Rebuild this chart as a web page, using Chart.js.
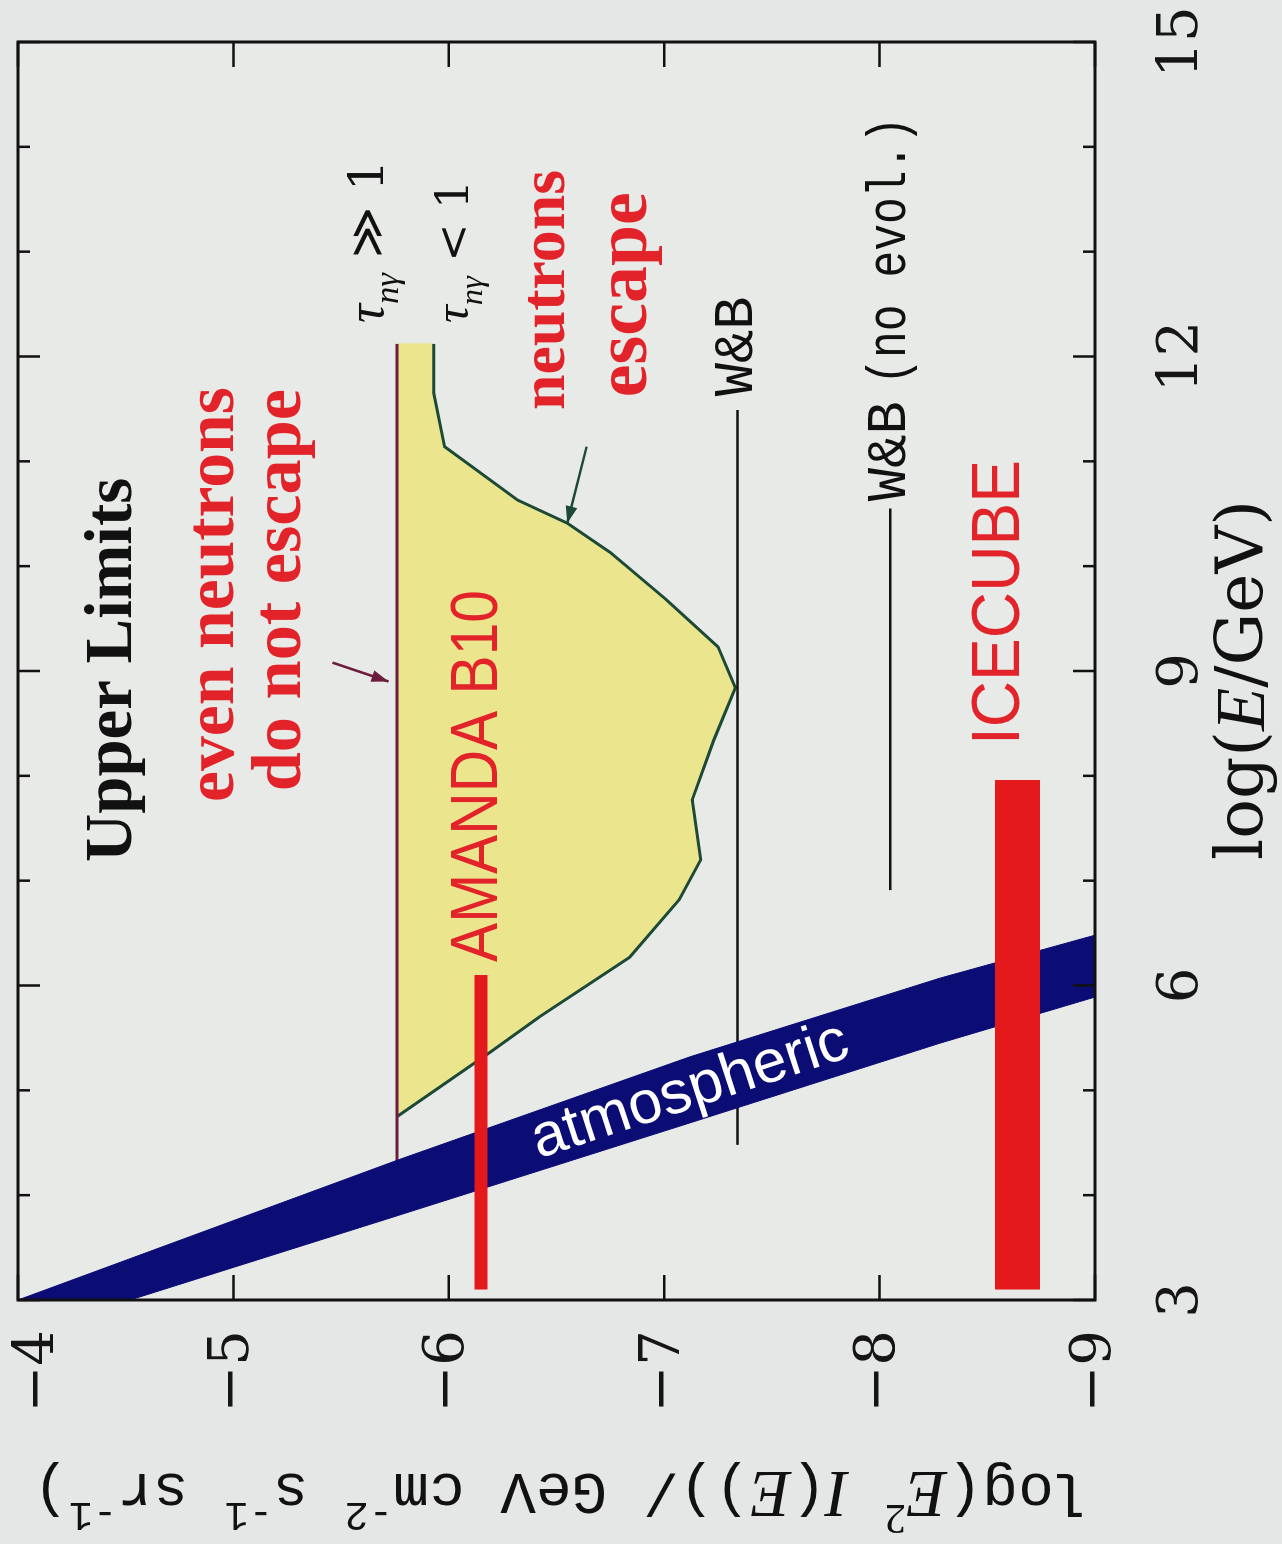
<!DOCTYPE html>
<html>
<head>
<meta charset="utf-8">
<title>Upper Limits</title>
<script src="https://cdn.jsdelivr.net/npm/chart.js@4/dist/chart.umd.min.js"></script>
<style>
  html, body { margin: 0; padding: 0; width: 1282px; height: 1544px; overflow: hidden; background: #e4e7e5; }
  /* the figure is printed turned a quarter turn */
  #turn { position: absolute; left: 0; top: 0; width: 1544px; height: 1282px;
          transform-origin: 0 0; transform: translate(0, 1544px) rotate(-90deg); }
</style>
</head>
<body>
<div id="turn"><canvas id="limitsChart" width="1544" height="1282"></canvas></div>
<script>
// axes
var xRange = [3, 15];
var yRange = [-9, -4];
var xTicks = [3, 6, 9, 12, 15];
var yTicks = [-4, -5, -6, -7, -8, -9];

// atmospheric band, two edges
var atmUpperX = [3.0, 4.34, 5.32, 6.07, 6.48];
var atmUpperY = [-4.0, -5.77, -7.12, -8.28, -9.0];
var atmLowerX = [3.0, 3.81, 4.69, 5.45, 5.89];
var atmLowerY = [-4.52, -5.77, -7.12, -8.28, -9.0];

// neutrons escape bound (tau < 1)
var escapeX = [4.75, 5.36, 5.70, 6.27, 6.82, 7.20, 7.77, 8.34, 8.84, 9.23, 9.68, 10.13, 10.41, 10.63, 11.14, 11.65, 12.12];
var escapeY = [-5.76, -6.19, -6.42, -6.84, -7.07, -7.17, -7.13, -7.23, -7.33, -7.25, -7.01, -6.75, -6.55, -6.32, -5.98, -5.93, -5.93];

// even neutrons do not escape (tau >> 1)
var opaqueX = [3.81, 12.12];
var opaqueY = [-5.76, -5.76];

// W&B bounds and detector sensitivities
var wbX = [4.48, 11.49];
var wbY = [-7.34, -7.34];
var wbFlatX = [6.91, 10.55];
var wbFlatY = [-8.05, -8.05];
var amandaX = [3.1, 6.1];
var amandaY = [-6.15, -6.15];
var icecubeX = [3.1, 7.96];
var icecubeY = [-8.64, -8.64];

// pointer arrows: tail, head
var arrowOpaqueX = [9.08, 8.90];
var arrowOpaqueY = [-5.46, -5.72];
var arrowEscapeX = [11.14, 10.41];
var arrowEscapeY = [-6.64, -6.55];

var SERIF = '"Liberation Serif", "Times New Roman", serif';
var CMR = '"DejaVu Serif", serif';
var SANS = '"Liberation Sans", Arial, sans-serif';
var MONO = '"Liberation Mono", "Courier New", monospace';

var NAVY = '#0b0c74', YELLOW = '#ebe58e', GREEN = '#1d4a36', MAROON = '#6e1c3e', RED = '#e3191c', REDTXT = '#e2232a';

function pts(xs, ys) {
	return xs.map(function(x, i) { return {x: x, y: ys[i]}; });
}

var bandPts = pts(atmUpperX, atmUpperY).concat(pts(atmLowerX, atmLowerY).reverse());
var escapeArea = pts(escapeX, escapeY).concat([{x: opaqueX[1], y: opaqueY[1]}]);

function lineSet(label, data, color, width, order) {
	return {label: label, data: data, showLine: true, borderColor: color, borderWidth: width,
		pointRadius: 0, fill: false, tension: 0, borderCapStyle: 'butt', order: order};
}

// text on the plot, placed in data units
var notes = [
	{x: 9.01, y: -4.446, align: 'center', width: 384, color: '#111',
		parts: [{t: 'Upper Limits', weight: 'bold', family: SERIF, size: 64}]},
	{x: 9.73, y: -4.915, align: 'center', width: 415, color: REDTXT,
		parts: [{t: 'even neutrons', weight: 'bold', family: SERIF, size: 64}]},
	{x: 9.77, y: -5.225, align: 'center', width: 402, color: REDTXT,
		parts: [{t: 'do not escape', weight: 'bold', family: SERIF, size: 64}]},
	{x: 12.635, y: -6.46, align: 'center', width: 240, color: REDTXT,
		parts: [{t: 'neutrons', weight: 'bold', family: SERIF, size: 64}]},
	{x: 12.59, y: -6.827, align: 'center', width: 205, color: REDTXT,
		parts: [{t: 'escape', weight: 'bold', family: SERIF, size: 64}]},
	{x: 6.224, y: -6.138, align: 'left', width: 372, squeeze: true, color: REDTXT,
		parts: [{t: 'AMANDA B10', family: SANS, size: 66}]},
	{x: 8.294, y: -8.559, align: 'left', width: 285, squeeze: true, color: REDTXT,
		parts: [{t: 'ICECUBE', family: SANS, size: 68}]},
	{x: 11.62, y: -7.34, align: 'left', width: 100, color: '#111',
		parts: [{t: 'W&B', family: MONO, size: 50}]},
	{x: 10.62, y: -8.05, align: 'left', width: 100, color: '#111',
		parts: [{t: 'W&B', family: MONO, size: 50}]},
	{x: 11.73, y: -8.05, align: 'left', width: 268, squeeze: true, color: '#111',
		parts: [{t: '(no evol.)', family: MONO, size: 55}]},
	{x: 12.32, y: -5.695, align: 'left', baseline: 'alphabetic', width: 163, color: '#111',
		parts: [{t: '\u03c4', style: 'italic', family: SERIF, size: 52},
			{t: 'n\u03b3', style: 'italic', family: SERIF, size: 34, dy: 15},
			{t: ' \u226b 1', family: CMR, size: 48}]},
	{x: 12.32, y: -6.089, align: 'left', baseline: 'alphabetic', width: 143, color: '#111',
		parts: [{t: '\u03c4', style: 'italic', family: SERIF, size: 52},
			{t: 'n\u03b3', style: 'italic', family: SERIF, size: 34, dy: 15},
			{t: ' < 1', family: CMR, size: 48}]},
	{x: 4.99, y: -7.12, align: 'center', width: 330, color: '#ffffff', alongBand: true,
		parts: [{t: 'atmospheric', family: SANS, size: 58}]}
];

var xTitle = [{t: 'log(', family: CMR, size: 56}, {t: 'E', style: 'italic', family: SERIF, size: 60},
	{t: '/GeV)', family: CMR, size: 56}];
var yTitle = [{t: 'log(', family: MONO, size: 50}, {t: 'E', style: 'italic', family: SERIF, size: 56},
	{t: '2', family: SERIF, size: 36, dy: -22}, {t: ' ', family: MONO, size: 50},
	{t: 'I', style: 'italic', family: SERIF, size: 56}, {t: '(', family: MONO, size: 50},
	{t: 'E', style: 'italic', family: SERIF, size: 56}, {t: '))/ GeV cm', family: MONO, size: 50},
	{t: '-2', family: MONO, size: 34, dy: -20}, {t: ' s', family: MONO, size: 50},
	{t: '-1', family: MONO, size: 34, dy: -20}, {t: ' sr', family: MONO, size: 50},
	{t: '-1', family: MONO, size: 34, dy: -20}, {t: ')', family: MONO, size: 50}];

function fontOf(p, k) {
	return (p.style || 'normal') + ' ' + (p.weight || 'normal') + ' ' + (p.size * k).toFixed(1) + 'px ' + p.family;
}

function partsWidth(c, parts, k) {
	var w = 0;
	parts.forEach(function(p) { c.font = fontOf(p, k); w += c.measureText(p.t).width; });
	return w;
}

// draw a run of text pieces at a pixel point
function drawParts(c, parts, px, py, opt) {
	var w0 = partsWidth(c, parts, 1);
	var k = 1, sq = 1;
	if (opt.width && !opt.squeeze) k = opt.width / w0;
	if (opt.width && opt.squeeze) sq = opt.width / w0;
	c.save();
	c.fillStyle = opt.color || '#111';
	c.textBaseline = opt.baseline || 'middle';
	c.textAlign = 'left';
	c.translate(px, py);
	if (opt.angle) c.rotate(opt.angle);
	c.scale(sq, 1);
	var cx = opt.align === 'center' ? -w0 * k / 2 : 0;
	parts.forEach(function(p) {
		c.font = fontOf(p, k);
		c.fillText(p.t, cx, (p.dy || 0) * k);
		cx += c.measureText(p.t).width;
	});
	c.restore();
}

function arrowHead(c, sx, sy, xs, ys, color) {
	var x0 = sx.getPixelForValue(xs[0]), y0 = sy.getPixelForValue(ys[0]);
	var x1 = sx.getPixelForValue(xs[1]), y1 = sy.getPixelForValue(ys[1]);
	var ang = Math.atan2(y1 - y0, x1 - x0);
	c.save();
	c.fillStyle = color;
	c.translate(x1, y1);
	c.rotate(ang);
	c.beginPath();
	c.moveTo(0, 0);
	c.lineTo(-17, -6);
	c.lineTo(-17, 6);
	c.closePath();
	c.fill();
	c.restore();
}

// keep the plot frame where it is in the print: no extra room for overhanging labels
function fixBox(size) {
	return function(s) {
		if (s.isHorizontal()) s.height = size; else s.width = size;
		s.paddingLeft = 0; s.paddingRight = 0; s.paddingTop = 0; s.paddingBottom = 0;
	};
}

var decorations = {
	id: 'decorations',
	beforeDraw: function(chart) {
		var c = chart.ctx, a = chart.chartArea;
		c.save();
		c.fillStyle = '#e4e7e5';
		c.fillRect(0, 0, chart.width, chart.height);
		c.fillStyle = '#e8eae7';
		c.fillRect(a.left, a.top, a.right - a.left, a.bottom - a.top);
		c.restore();
	},
	afterDatasetsDraw: function(chart) {
		var c = chart.ctx, a = chart.chartArea, sx = chart.scales.x, sy = chart.scales.y;

		arrowHead(c, sx, sy, arrowOpaqueX, arrowOpaqueY, MAROON);
		arrowHead(c, sx, sy, arrowEscapeX, arrowEscapeY, GREEN);

		// band direction for the slanted label
		var bx0 = (sx.getPixelForValue(atmUpperX[1]) + sx.getPixelForValue(atmLowerX[1])) / 2;
		var by0 = sy.getPixelForValue(atmLowerY[1]);
		var bx1 = (sx.getPixelForValue(atmUpperX[3]) + sx.getPixelForValue(atmLowerX[3])) / 2;
		var by1 = sy.getPixelForValue(atmLowerY[3]);
		var bandAngle = Math.atan2(by1 - by0, bx1 - bx0);

		notes.forEach(function(n) {
			drawParts(c, n.parts, sx.getPixelForValue(n.x), sy.getPixelForValue(n.y), {
				align: n.align, width: n.width, squeeze: n.squeeze, color: n.color,
				baseline: n.baseline, angle: n.alongBand ? bandAngle : 0
			});
		});

		// frame and inward ticks
		c.save();
		c.strokeStyle = '#111';
		c.lineWidth = 3;
		c.strokeRect(a.left, a.top, a.right - a.left, a.bottom - a.top);
		c.lineWidth = 2.5;
		c.beginPath();
		for (var v = xRange[0]; v <= xRange[1]; v++) {
			var p = sx.getPixelForValue(v);
			var len = xTicks.indexOf(v) >= 0 ? 22 : 12;
			c.moveTo(p, a.bottom); c.lineTo(p, a.bottom - len);
			c.moveTo(p, a.top); c.lineTo(p, a.top + len);
		}
		yTicks.forEach(function(t) {
			var q = sy.getPixelForValue(t);
			c.moveTo(a.left, q); c.lineTo(a.left + 25, q);
			c.moveTo(a.right, q); c.lineTo(a.right - 25, q);
		});
		c.stroke();
		c.restore();

		// axis titles
		drawParts(c, xTitle, (a.left + a.right) / 2 - 9, 1245, {align: 'center', width: 360, color: '#111'});
		drawParts(c, yTitle, 54, 561, {align: 'center', width: 1057, color: '#111', angle: -Math.PI / 2});
	}
};

var ctx = document.getElementById('limitsChart').getContext('2d');

var limitsChart = new Chart(ctx, {
	type: 'scatter',
	data: {
		datasets: [
			{label: 'neutrons escape', data: escapeArea, showLine: true, borderColor: YELLOW, borderWidth: 1,
				backgroundColor: YELLOW, fill: 'shape', pointRadius: 0, tension: 0, order: 10},
			lineSet('tau < 1', pts(escapeX, escapeY), GREEN, 3, 9),
			lineSet('tau >> 1', pts(opaqueX, opaqueY), MAROON, 3, 8),
			lineSet('W&B', pts(wbX, wbY), '#111', 2.5, 7),
			lineSet('W&B (no evol.)', pts(wbFlatX, wbFlatY), '#111', 2.5, 7),
			{label: 'atmospheric', data: bandPts, showLine: true, borderColor: NAVY, borderWidth: 1,
				backgroundColor: NAVY, fill: 'shape', pointRadius: 0, tension: 0, order: 6},
			lineSet('AMANDA B10', pts(amandaX, amandaY), RED, 13, 5),
			lineSet('ICECUBE', pts(icecubeX, icecubeY), RED, 45, 5),
			lineSet('arrow 1', pts(arrowOpaqueX, arrowOpaqueY), MAROON, 2.5, 4),
			lineSet('arrow 2', pts(arrowEscapeX, arrowEscapeY), GREEN, 2.5, 4)
		]
	},
	options: {
		responsive: false,
		animation: false,
		devicePixelRatio: 1,
		layout: {padding: {top: 18, right: 42, left: 0, bottom: 0}},
		plugins: {legend: {display: false}, tooltip: {enabled: false}},
		scales: {
			x: {
				type: 'linear', position: 'bottom', min: xRange[0], max: xRange[1],
				afterBuildTicks: function(s) { s.ticks = xTicks.map(function(v) { return {value: v}; }); },
				afterFit: fixBox(187),
				grid: {display: false, drawTicks: false},
				border: {display: false},
				ticks: {font: {family: CMR, size: 56}, color: '#151515', padding: 54, maxRotation: 0, autoSkip: false}
			},
			y: {
				type: 'linear', position: 'left', min: yRange[0], max: yRange[1],
				afterBuildTicks: function(s) { s.ticks = yTicks.map(function(v) { return {value: v}; }); },
				afterFit: fixBox(244),
				grid: {display: false, drawTicks: false},
				border: {display: false},
				ticks: {
					// the top label sits a little inside the frame, as printed
					font: function(c) {
						var top = c.tick && c.tick.value === yRange[1];
						return {family: CMR, size: 56, lineHeight: top ? 0.72 : 1.2};
					},
					color: '#151515', padding: 30, autoSkip: false,
					callback: function(v) {
						var s = (v < 0 ? '\u2212' : '') + Math.abs(v);
						return v === yRange[1] ? ['', s] : s;
					}
				}
			}
		}
	},
	plugins: [decorations]
});
</script>
</body>
</html>
